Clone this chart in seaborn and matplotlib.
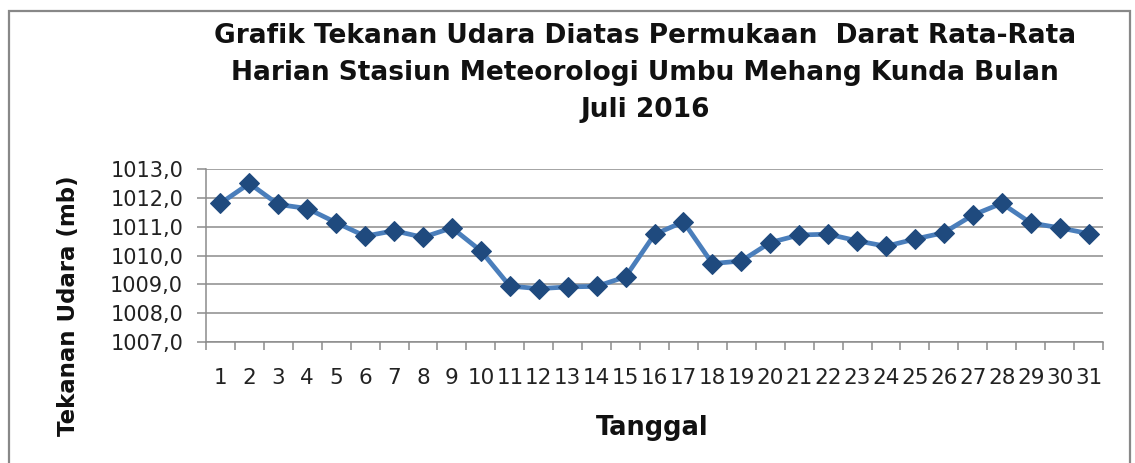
import matplotlib
matplotlib.use("Agg")
import matplotlib.pyplot as plt
import seaborn as sns
import pandas as pd
from matplotlib.ticker import FuncFormatter, FixedLocator
from matplotlib.patches import Rectangle

# daily mean surface pressure, July 2016 (mb)
days = list(range(1, 32))
pressure = [1011.81, 1012.50, 1011.77, 1011.63, 1011.14, 1010.67, 1010.86, 1010.63,
            1010.96, 1010.16, 1008.94, 1008.85, 1008.91, 1008.93, 1009.26, 1010.73,
            1011.17, 1009.72, 1009.81, 1010.45, 1010.71, 1010.74, 1010.51, 1010.32,
            1010.57, 1010.79, 1011.40, 1011.81, 1011.13, 1010.96, 1010.76]
y_ticks = [1007, 1008, 1009, 1010, 1011, 1012, 1013]

title_lines = ["Grafik Tekanan Udara Diatas Permukaan  Darat Rata-Rata",
               "Harian Stasiun Meteorologi Umbu Mehang Kunda Bulan",
               "Juli 2016"]

df = pd.DataFrame({"Tanggal": days, "Tekanan": pressure})

sns.set_style("white")
plt.rcParams["font.family"] = ["DejaVu Sans"]

W, H = 1135, 463
fig = plt.figure(figsize=(W / 100, H / 100), dpi=100)
ax = fig.add_axes([206 / W, 1 - 342 / H, (1103 - 206) / W, (342 - 169) / H])

sns.lineplot(data=df, x="Tanggal", y="Tekanan", ax=ax, color="#4a7ebb",
             linewidth=3.4, marker="D", markersize=10,
             markerfacecolor="#1f4a7e", markeredgecolor="#1f4a7e")

ax.set_xlim(0.5, 31.5)
ax.set_ylim(1007, 1013)
ax.set_yticks(y_ticks)
ax.yaxis.set_major_formatter(FuncFormatter(lambda v, p: f"{v:.1f}".replace(".", ",")))
ax.set_xticks(days)
ax.set_xticklabels([str(d) for d in days])
ax.xaxis.set_minor_locator(FixedLocator([d + 0.5 for d in range(0, 32)]))

ax.grid(axis="y", color="#8c8c8c", linewidth=1.1)
ax.grid(axis="x", visible=False)
for side in ["top", "right"]:
    ax.spines[side].set_visible(False)
for side in ["left", "bottom"]:
    ax.spines[side].set_color("#8c8c8c")
    ax.spines[side].set_linewidth(1.1)

ax.tick_params(axis="y", which="major", direction="out", length=6.5, width=1.1,
               color="#8c8c8c", labelsize=15, pad=10, left=True, labelcolor="#222222")
ax.tick_params(axis="x", which="major", length=0, labelsize=15.5, pad=19,
               labelcolor="#222222")
ax.tick_params(axis="x", which="minor", direction="out", length=5.5, width=1.1,
               color="#8c8c8c", bottom=True)
ax.set_xlabel("")
ax.set_ylabel("")

# titles and axis labels placed in figure pixels
baselines = [43, 80, 117]
for line, yb in zip(title_lines, baselines):
    fig.text(645 / W, 1 - yb / H, line, ha="center", va="baseline",
             fontsize=19, fontweight="bold", color="#111111")
fig.text(652 / W, 1 - 435 / H, "Tanggal", ha="center", va="baseline",
         fontsize=18.5, fontweight="bold", color="#111111")
fig.text(68 / W, 1 - 306 / H, "Tekanan Udara (mb)", ha="center", va="center",
         rotation=90, fontsize=16.5, fontweight="bold", color="#111111")

# chart border (bottom edge runs off the image)
fig.patches.append(Rectangle((9 / W, -0.05), (1130 - 9) / W, 1.05 - 11 / H,
                             transform=fig.transFigure, fill=False,
                             edgecolor="#888888", linewidth=1.6))

fig.savefig("out.png", dpi=100)
